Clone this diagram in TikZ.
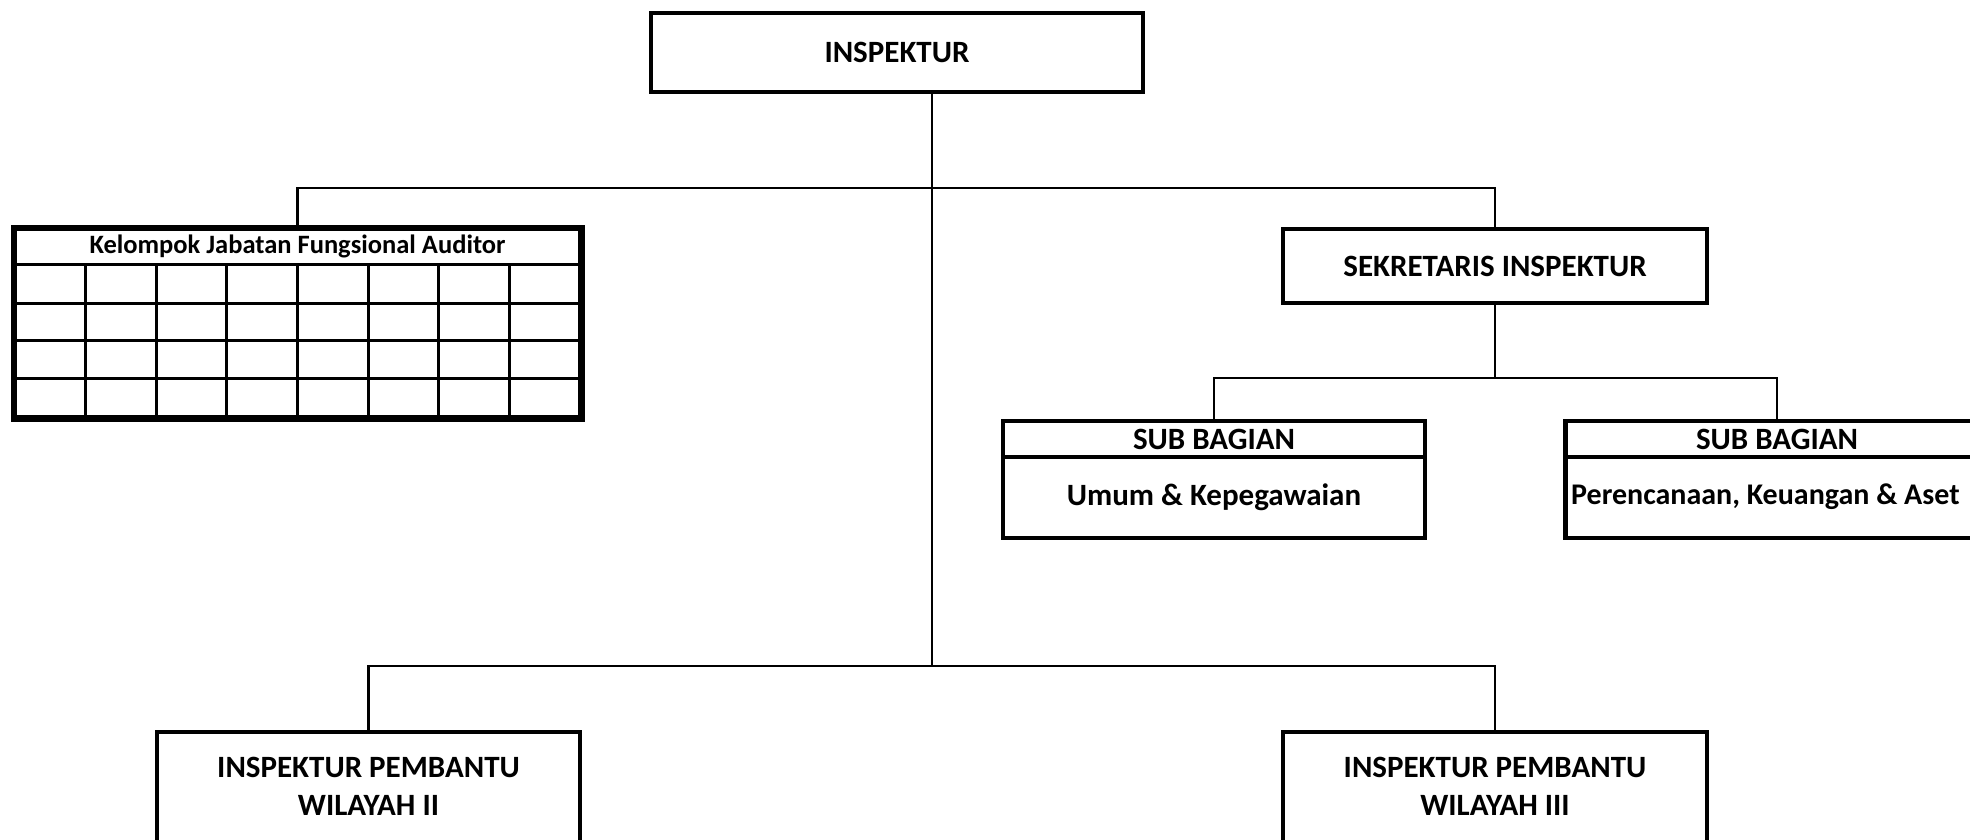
\documentclass[tikz,border=0pt]{standalone}
\usepackage{fontspec}
\setmainfont{Carlito}
\begin{document}
\begin{tikzpicture}[x=1pt,y=-1pt,
  box/.style={draw, line width=4.5pt, inner sep=0pt, fill=white},
  lbl/.style={inner sep=0pt, font=\bfseries\fontsize{31}{37}\selectfont},
  conn/.style={line width=2.2pt},
  grid/.style={line width=3pt}]
\useasboundingbox (0,0) rectangle (1970,839);
\clip (0,0) rectangle (1970,839);
\fill[white] (0,0) rectangle (1970,839);
% junctions
\coordinate (j0) at (932,188);
\coordinate (j1) at (932,666);
\coordinate (j2) at (1495,378);
% boxes
\node[box, minimum width=492pt, minimum height=79pt] (insp) at (897,52.5) {};
\node[lbl] (inspt) at (insp.center) {INSPEKTUR};
\node[box, minimum width=565pt, minimum height=188pt] (kel) at (297.5,323) {};
\node[box, minimum width=424pt, minimum height=74pt] (sek) at (1495,266) {};
\node[lbl] (sekt) at (sek.center) {SEKRETARIS INSPEKTUR};
\node[box, minimum width=422pt, minimum height=117pt] (sub1) at (1214,479.5) {};
\node[box, minimum width=423pt, minimum height=117pt] (sub2) at (1777,479.5) {};
\node[box, minimum width=423pt, minimum height=140pt] (w2) at (368.5,802) {};
\node[box, minimum width=424pt, minimum height=140pt] (w3) at (1495,802) {};
% connectors
\draw[conn] (insp.south -| j0) -- (j1);
\draw[conn] (kel.north) |- (j0) -| (sek.north);
\draw[conn] (sek.south) -- (j2);
\draw[conn] (sub1.north) |- (j2) -| (sub2.north);
\draw[conn] (w2.north) |- (j1) -| (w3.north);
% table grid
\draw[grid] (kel.west |- 0,264) -- (kel.east |- 0,264);
\foreach \yy in {303,340,378} \draw[grid] (kel.west |- 0,\yy) -- (kel.east |- 0,\yy);
\foreach \i in {1,...,7} \draw[grid] ({15+\i*70.6},264) -- ({15+\i*70.6},417);
\draw[line width=4.5pt] (kel.south west) rectangle (kel.north east);
\node[lbl, font=\bfseries\fontsize{26.5}{31}\selectfont] (kelt) at (297.5,246.5) {Kelompok Jabatan Fungsional Auditor};
% sub bagian
\draw[line width=3.5pt] (sub1.west |- 0,457) -- (sub1.east |- 0,457);
\draw[line width=3.5pt] (sub2.west |- 0,457) -- (sub2.east |- 0,457);
\node[lbl] (s1a) at (1214,439) {SUB BAGIAN};
\node[lbl] (s1b) at (1214,497) {Umum \& Kepegawaian};
\node[lbl] (s2a) at (1777,439) {SUB BAGIAN};
\node[lbl, anchor=west, font=\bfseries\fontsize{30}{36}\selectfont] (s2b) at (1571,497) {Perencanaan, Keuangan \& Aset};
% wilayah
\node[lbl] (w2a) at (368.5,767) {INSPEKTUR PEMBANTU};
\node[lbl] (w2b) at (368.5,805) {WILAYAH II};
\node[lbl] (w3a) at (1495,767) {INSPEKTUR PEMBANTU};
\node[lbl] (w3b) at (1495,805) {WILAYAH III};
\end{tikzpicture}
\end{document}
